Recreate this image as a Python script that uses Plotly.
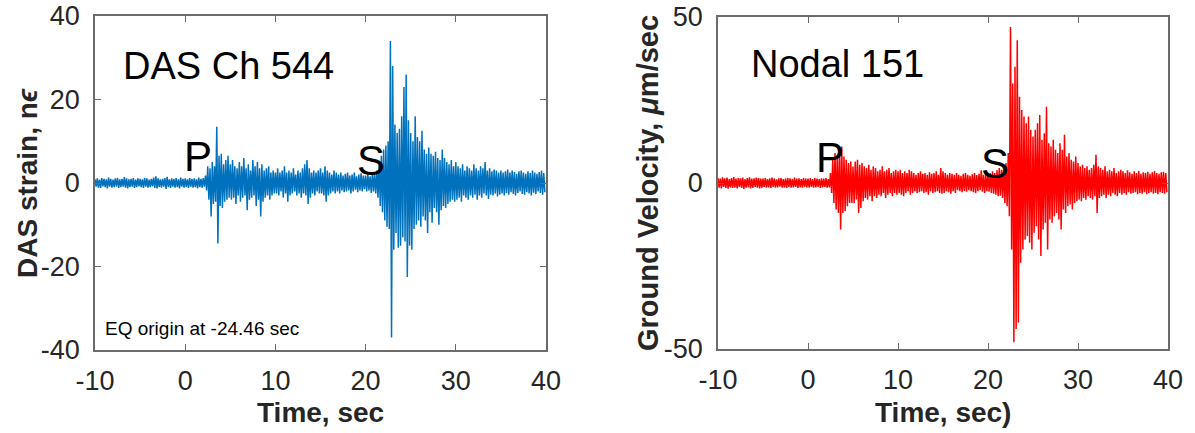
import numpy as np
import plotly.graph_objects as go

W, H = 1195, 433

# ---------------- data (envelope, 0.25 s bins from -10 s) ----------------
T_START = -10.0
BIN = 0.25

x_ticks = [-10, 0, 10, 20, 30, 40]
x_tick_labels = ["-10", "0", "10", "20", "30", "40"]
das_yticks = [-40, -20, 0, 20, 40]
das_ytick_labels = ["-40", "-20", "0", "20", "40"]
nodal_yticks = [-50, 0, 50]
nodal_ytick_labels = ["-50", "0", "50"]

das_upper = [
    0.9, 1.1, 0.8, 1.2, 1.0, 0.9, 1.3, 1.0, 0.8, 1.1, 1.2, 0.9, 1.0, 1.4, 1.1, 0.9, 1.0, 1.2, 0.8, 1.1,
    1.0, 0.9, 1.2, 1.1, 0.8, 1.0, 1.3, 1.6, 1.1, 0.9, 1.0, 1.2, 1.5, 0.9, 1.1, 1.0, 1.2, 0.9, 1.3, 1.0,
    1.1, 0.9, 1.2, 1.0, 1.1, 0.9, 1.3, 1.0, 1.2, 1.8, 4.0, 3.5, 5.0, 4.0, 13.5, 6.5, 7.0, 4.5, 5.5, 6.5,
    4.5, 5.5, 4.0, 3.5, 5.0, 4.0, 6.0, 3.5, 4.5, 3.0, 5.5, 4.0, 5.0, 3.5, 4.5, 3.0, 3.5, 4.0, 2.5, 3.0,
    2.5, 3.5, 2.5, 3.0, 4.0, 2.5, 3.0, 2.5, 3.5, 2.0, 3.0, 2.5, 3.5, 4.5, 5.5, 3.5, 2.5, 3.0, 2.5, 3.0,
    3.5, 2.5, 4.0, 3.0, 2.5, 2.0, 3.0, 2.5, 2.0, 2.5, 1.8, 2.2, 2.5, 1.8, 2.0, 2.5, 1.6, 2.0, 2.3, 1.8,
    1.8, 2.2, 1.6, 2.5, 2.0, 3.0, 5.0, 6.5, 8.0, 9.0, 10.0, 34.0, 28.0, 14.0, 12.0, 13.0, 16.0, 23.0, 26.0, 15.0,
    12.0, 10.0, 16.0, 11.0, 10.0, 12.5, 8.0, 7.0, 8.5, 7.0, 6.5, 7.5, 6.0, 5.5, 8.0, 6.0, 5.0, 4.5, 5.5, 4.0,
    5.0, 4.0, 3.5, 4.5, 3.0, 4.0, 3.5, 3.0, 4.5, 3.5, 3.0, 4.0, 3.5, 5.0, 3.0, 3.5, 2.8, 3.2, 3.0, 2.5,
    3.0, 2.5, 2.8, 3.2, 2.5, 3.0, 2.6, 2.2, 2.8, 3.0, 2.5, 2.2, 2.8, 2.4, 3.0, 2.5, 2.2, 2.6, 3.0, 2.4,
]
das_lower = [
    -0.9, -1.1, -1.2, -0.8, -1.0, -1.3, -0.9, -1.1, -1.0, -0.8, -1.2, -1.0, -0.9, -1.1, -1.3, -1.0, -0.9, -1.2, -1.0, -0.8,
    -1.0, -1.2, -0.9, -1.1, -1.0, -0.8, -1.2, -1.3, -1.0, -1.1, -0.9, -1.4, -1.0, -1.2, -0.9, -1.1, -1.0, -1.3, -0.9, -1.1,
    -1.0, -1.2, -0.9, -1.1, -1.0, -1.3, -1.0, -1.1, -0.9, -1.8, -4.0, -8.0, -5.0, -4.5, -14.5, -5.5, -6.0, -4.5, -4.0, -3.5,
    -4.0, -3.5, -5.0, -3.0, -4.5, -3.5, -3.0, -6.5, -4.0, -3.5, -3.0, -5.5, -4.0, -8.0, -4.5, -3.5, -3.0, -4.0, -3.0, -2.5,
    -2.5, -3.0, -2.0, -3.5, -2.5, -4.5, -3.0, -2.5, -2.0, -3.0, -2.5, -3.5, -2.5, -3.0, -5.0, -3.5, -2.5, -3.0, -2.0, -2.5,
    -2.5, -3.0, -4.5, -3.0, -2.5, -2.0, -2.5, -2.0, -2.5, -1.8, -2.2, -2.0, -1.8, -2.5, -2.0, -1.6, -2.2, -1.8, -2.0, -1.5,
    -2.0, -1.8, -2.4, -2.0, -2.5, -3.5, -5.5, -7.0, -9.0, -10.5, -11.0, -37.0, -16.0, -12.0, -15.5, -15.0, -13.0, -14.0, -22.5, -15.0,
    -16.0, -11.0, -10.0, -9.0, -10.5, -8.0, -9.0, -12.0, -7.0, -9.5, -6.0, -7.0, -10.0, -6.5, -5.5, -6.0, -5.0, -4.5, -4.0, -4.5,
    -4.0, -3.5, -4.5, -3.0, -3.5, -4.0, -3.0, -3.5, -2.8, -4.0, -3.0, -3.5, -2.5, -3.0, -3.8, -2.8, -3.0, -2.5, -3.2, -2.8,
    -2.5, -3.0, -2.4, -2.8, -2.2, -2.6, -3.0, -2.4, -2.0, -2.6, -2.8, -2.2, -2.5, -3.0, -2.3, -2.6, -2.0, -2.4, -2.8, -2.2,
]

nodal_upper = [
    1.5, 1.3, 1.7, 1.4, 1.6, 1.2, 1.5, 1.8, 1.3, 1.5, 1.4, 1.6, 1.2, 1.5, 1.7, 1.3, 1.4, 1.6, 1.5, 1.3,
    1.3, 1.5, 1.2, 1.4, 1.6, 1.3, 1.1, 1.4, 1.5, 1.2, 1.3, 1.5, 1.4, 1.2, 1.6, 1.3, 1.4, 1.2, 1.5, 1.3,
    1.3, 1.4, 1.2, 1.5, 1.3, 1.2, 1.4, 1.3, 1.5, 1.2, 3.0, 7.0, 9.0, 8.0, 10.0, 11.0, 8.0, 7.0, 6.0, 6.5,
    5.0, 6.5, 7.0, 5.5, 6.0, 5.0, 4.5, 5.5, 4.0, 5.0, 4.5, 3.5, 4.0, 5.0, 3.5, 4.0, 4.5, 3.0, 3.5, 4.0,
    3.5, 4.0, 3.0, 3.5, 3.0, 4.0, 3.5, 3.0, 2.5, 3.0, 3.5, 2.8, 3.0, 2.5, 3.2, 2.8, 3.0, 3.5, 2.5, 4.5,
    3.5, 3.0, 2.5, 3.0, 2.8, 2.5, 3.0, 2.5, 2.2, 2.8, 3.0, 2.5, 2.2, 2.6, 3.0, 2.4, 2.8, 3.8, 2.5, 2.8,
    2.8, 3.0, 3.5, 3.0, 3.8, 4.5, 4.0, 5.0, 6.0, 9.0, 47.0, 30.0, 35.0, 43.0, 26.0, 22.0, 20.0, 18.0, 20.0, 16.0,
    14.0, 16.0, 18.0, 20.5, 13.0, 15.0, 23.0, 12.0, 11.0, 13.0, 10.0, 9.0, 12.0, 10.0, 14.5, 8.0, 9.0, 7.0, 6.5, 8.0,
    6.0, 5.0, 5.5, 4.5, 5.0, 4.0, 4.5, 5.5, 8.5, 5.0, 4.5, 4.0, 5.0, 3.5, 4.0, 3.5, 4.5, 3.0, 3.5, 4.0,
    3.5, 3.0, 3.8, 3.2, 2.8, 3.5, 3.0, 3.6, 2.8, 3.2, 3.0, 3.4, 2.8, 3.2, 3.6, 3.0, 2.8, 3.2, 3.4, 3.0,
]
nodal_lower = [
    -1.4, -1.6, -1.2, -1.5, -1.7, -1.3, -1.5, -1.4, -1.6, -1.2, -1.5, -1.8, -1.4, -1.3, -1.6, -1.5, -1.2, -1.4, -1.6, -1.5,
    -1.2, -1.4, -1.3, -1.5, -1.2, -1.4, -1.3, -1.1, -1.4, -1.3, -1.5, -1.2, -1.4, -1.3, -1.2, -1.5, -1.3, -1.4, -1.2, -1.3,
    -1.3, -1.2, -1.4, -1.3, -1.2, -1.5, -1.3, -1.2, -1.4, -1.3, -3.0, -6.0, -8.0, -9.0, -14.0, -9.0, -8.5, -7.0, -6.0, -6.0,
    -6.0, -5.0, -9.0, -7.5, -5.5, -4.5, -5.0, -4.0, -5.5, -4.0, -4.5, -3.5, -4.0, -3.0, -4.5, -3.5, -3.0, -4.0, -3.0, -3.5,
    -3.0, -3.5, -4.0, -3.0, -2.5, -3.5, -3.0, -2.5, -3.0, -2.8, -2.5, -3.0, -2.8, -3.5, -2.5, -3.0, -2.8, -2.5, -3.0, -3.2,
    -3.0, -2.5, -2.8, -3.2, -2.5, -3.0, -2.2, -2.5, -2.8, -2.4, -2.6, -2.2, -2.5, -2.8, -3.0, -2.5, -2.2, -2.6, -3.0, -2.5,
    -2.6, -3.0, -3.2, -3.5, -4.0, -3.8, -4.5, -6.0, -7.0, -10.0, -20.0, -48.0, -44.0, -42.0, -24.0, -20.0, -17.0, -16.0, -18.0, -20.0,
    -15.0, -13.0, -17.0, -22.0, -14.0, -12.0, -20.0, -11.0, -12.0, -10.0, -9.0, -11.0, -14.0, -8.0, -9.0, -7.0, -6.5, -8.0, -6.0, -5.5,
    -5.0, -5.5, -4.5, -5.0, -4.0, -4.5, -5.0, -4.0, -9.0, -4.5, -4.0, -3.5, -4.5, -3.5, -4.0, -3.0, -3.5, -4.0, -3.0, -3.5,
    -3.0, -3.5, -2.8, -3.2, -3.0, -2.8, -3.4, -3.0, -3.2, -2.8, -3.4, -3.0, -2.8, -3.2, -3.0, -3.4, -2.8, -3.0, -3.2, -2.8,
]


def zigzag(upper, lower):
    n = len(upper)
    t = T_START + BIN * np.arange(n)
    x = np.empty(2 * n)
    y = np.empty(2 * n)
    x[0::2] = t
    x[1::2] = t + BIN / 2
    y[0::2] = upper
    y[1::2] = lower
    return x, y


def px(p):
    return p / W


def py(p):
    return 1 - p / H


FONT = "Liberation Sans, Arial, Helvetica, sans-serif"
TXT = "#262626"
AX = "#6b6b6b"

fig = go.Figure()
x1, y1 = zigzag(das_upper, das_lower)
x2, y2 = zigzag(nodal_upper, nodal_lower)
fig.add_trace(go.Scatter(x=x1, y=y1, mode="lines", xaxis="x", yaxis="y",
                         line=dict(color="#0072BD", width=1.5, simplify=False),
                         showlegend=False, hoverinfo="skip"))
fig.add_trace(go.Scatter(x=x2, y=y2, mode="lines", xaxis="x2", yaxis="y2",
                         line=dict(color="#FF0000", width=1.5, simplify=False),
                         showlegend=False, hoverinfo="skip"))

common = dict(showline=True, linecolor=AX, linewidth=1.5, mirror="ticks",
              ticks="inside", ticklen=6, tickwidth=1, tickcolor=AX,
              showgrid=False, zeroline=False, automargin=False,
              tickfont=dict(family=FONT, size=27, color=TXT))

fig.update_layout(
    width=W, height=H,
    margin=dict(l=0, r=0, t=0, b=0),
    paper_bgcolor="white", plot_bgcolor="white",
    xaxis=dict(domain=[px(95), px(546)], range=[-10, 40], tickvals=x_ticks,
               ticktext=x_tick_labels, anchor="y", ticklabelstandoff=6, **common),
    yaxis=dict(domain=[py(350), py(16)], range=[-40, 40], tickvals=das_yticks,
               ticktext=das_ytick_labels, anchor="x", ticklabelstandoff=8, **common),
    xaxis2=dict(domain=[px(718), px(1168)], range=[-10, 40], tickvals=x_ticks,
                ticktext=x_tick_labels, anchor="y2", ticklabelstandoff=6, **common),
    yaxis2=dict(domain=[py(349), py(17)], range=[-50, 50], tickvals=nodal_yticks,
                ticktext=nodal_ytick_labels, anchor="x2", ticklabelstandoff=8, **common),
)


def ann(text, x, y, size, bold=False, angle=0, color="black", xanchor="center"):
    fig.add_annotation(text=f"<b>{text}</b>" if bold else text,
                       xref="paper", yref="paper", x=px(x), y=py(y),
                       xanchor=xanchor, yanchor="middle", showarrow=False,
                       textangle=angle,
                       font=dict(family=FONT, size=size, color=color))


# axis titles
ann("Time, sec", 320, 412, 28, bold=True, color=TXT)
ann("Time, sec)", 943, 412, 28, bold=True, color=TXT)
ann("DAS strain, n<i>ϵ</i>", 28, 183, 28, bold=True, angle=-90, color=TXT)
ann("Ground Velocity, <i>μ</i>m/sec", 648, 183, 29, bold=True, angle=-90, color=TXT)

# in-plot labels
ann("DAS Ch 544", 228, 66, 38)
ann("Nodal 151", 837, 64, 38)
ann("P", 198, 156, 42)
ann("S", 371, 160, 42)
ann("P", 830, 157, 42)
ann("S", 995, 163, 42)
ann("EQ origin at -24.46 sec", 103, 328, 19, xanchor="left")

fig.write_html("out.html", config={"displayModeBar": False},
               post_script="document.body.style.margin='0px';")
